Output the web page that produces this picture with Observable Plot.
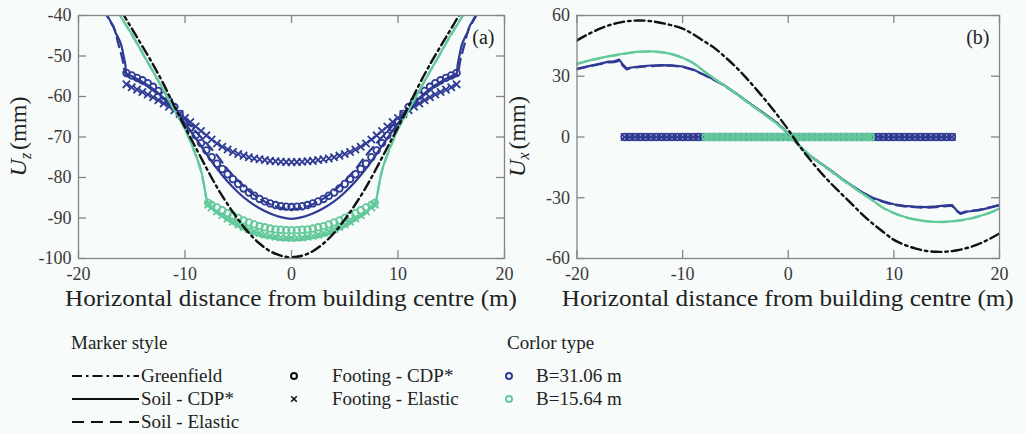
<!DOCTYPE html>
<html><head><meta charset="utf-8">
<script src="https://cdn.jsdelivr.net/npm/d3@7"></script>
<script src="https://cdn.jsdelivr.net/npm/@observablehq/plot@0.6"></script>
<style>
html,body{margin:0;padding:0;background:#f7fbf9;}
#wrap{position:relative;width:1027px;height:434px;overflow:hidden;}
#pa,#pb{position:absolute;top:0;width:520px;height:320px;}
#pa{left:0}
#pb{left:507px}
#legend{position:absolute;top:310px;left:0;overflow:visible}
svg{overflow:visible}
svg text, svg tspan{font-family:'Liberation Serif','Times New Roman',serif !important;}
</style></head><body>
<div id="wrap"><div id="pa"></div><div id="pb"></div><svg id="legend" width="1027" height="124"></svg></div>
<script>
// ---------- ticks ----------
const xTicks = [-20, -10, 0, 10, 20];
const uzTicks = [-100, -90, -80, -70, -60, -50, -40];
const uxTicks = [-60, -30, 0, 30, 60];

// ---------- footing nodes ----------
const nodesB31 = [-15.5,-15,-14.5,-14,-13.5,-13,-12.5,-12,-11.5,-11,-10.5,-10,-9.5,-9,-8.5,-8,-7.5,-7,-6.5,-6,-5.5,-5,-4.5,-4,-3.5,-3,-2.5,-2,-1.5,-1,-0.5,0,0.5,1,1.5,2,2.5,3,3.5,4,4.5,5,5.5,6,6.5,7,7.5,8,8.5,9,9.5,10,10.5,11,11.5,12,12.5,13,13.5,14,14.5,15,15.5];
const nodesB15 = [-7.82,-7.5,-7,-6.5,-6,-5.5,-5,-4.5,-4,-3.5,-3,-2.5,-2,-1.5,-1,-0.5,0,0.5,1,1.5,2,2.5,3,3.5,4,4.5,5,5.5,6,6.5,7,7.5,7.82];

// ---------- panel (a): Uz ----------
const footUzCDP_B31 = [-54.2,-54.8,-55.4,-56.0,-56.7,-57.6,-58.6,-59.8,-61.1,-62.6,-64.3,-66.1,-67.8,-69.6,-71.5,-73.3,-75.0,-76.6,-77.9,-79.2,-80.4,-81.6,-82.7,-83.7,-84.5,-85.3,-85.9,-86.4,-86.8,-87.1,-87.2,-87.3,-87.2,-87.1,-86.8,-86.4,-85.9,-85.3,-84.5,-83.7,-82.7,-81.6,-80.4,-79.2,-77.9,-76.6,-75.0,-73.3,-71.5,-69.6,-67.8,-66.1,-64.3,-62.6,-61.1,-59.8,-58.6,-57.6,-56.7,-56.0,-55.4,-54.8,-54.2];
const footUzEla_B31 = [-57.0,-57.7,-58.3,-58.9,-59.5,-60.2,-60.9,-61.7,-62.5,-63.4,-64.3,-65.3,-66.3,-67.4,-68.5,-69.6,-70.6,-71.6,-72.4,-73.1,-73.7,-74.2,-74.6,-75.0,-75.3,-75.5,-75.7,-75.9,-76.0,-76.1,-76.2,-76.2,-76.2,-76.1,-76.0,-75.9,-75.7,-75.5,-75.3,-75.0,-74.6,-74.2,-73.7,-73.1,-72.4,-71.6,-70.6,-69.6,-68.5,-67.4,-66.3,-65.3,-64.3,-63.4,-62.5,-61.7,-60.9,-60.2,-59.5,-58.9,-58.3,-57.7,-57.0];
const footUzCDP_B15 = [-86.3,-86.8,-87.4,-88.1,-88.8,-89.4,-90.0,-90.6,-91.1,-91.6,-92.0,-92.3,-92.6,-92.8,-92.9,-93.0,-93.0,-93.0,-92.9,-92.8,-92.6,-92.3,-92.0,-91.6,-91.1,-90.6,-90.0,-89.4,-88.8,-88.1,-87.4,-86.8,-86.3];
const footUzEla_B15 = [-86.7,-87.4,-88.4,-89.3,-90.1,-90.9,-91.6,-92.2,-92.8,-93.3,-93.7,-94.1,-94.4,-94.6,-94.8,-94.9,-94.9,-94.9,-94.8,-94.6,-94.4,-94.1,-93.7,-93.3,-92.8,-92.2,-91.6,-90.9,-90.1,-89.3,-88.4,-87.4,-86.7];

const soilX_B31 = [-17.6,-17.3,-17.0,-16.7,-16.5,-16.3,-16.0,-15.8,-15.6,-15.5,-15,-14,-13,-12,-11,-10,-9,-8,-7,-6,-5,-4,-3,-2,-1,0,1,2,3,4,5,6,7,8,9,10,11,12,13,14,15,15.5,15.6,15.8,16.0,16.3,16.5,16.7,17.0,17.3,17.6];
const soilUzCDP_B31 = [-38.6,-40.0,-41.4,-42.8,-44.4,-45.3,-47.2,-49.5,-52.2,-54.3,-55.0,-56.4,-58.1,-60.4,-63.3,-66.6,-70.3,-74.1,-77.8,-81.0,-83.7,-85.9,-87.6,-88.9,-89.8,-90.2,-89.8,-88.9,-87.6,-85.9,-83.7,-81.0,-77.8,-74.1,-70.3,-66.6,-63.3,-60.4,-58.1,-56.4,-55.0,-54.3,-52.2,-49.5,-47.2,-45.3,-44.4,-42.8,-41.4,-40.0,-38.6];
const soilXe_B31 = [-17.7,-17.35,-17.0,-16.6,-16.3,-15.9,-15.5,-15,-14,-13,-12,-11,-10,-9,-8,-7,-6,-5,-4,-3,-2,-1,0,1,2,3,4,5,6,7,8,9,10,11,12,13,14,15,15.5,15.9,16.3,16.6,17.0,17.35,17.7];
const soilUzEla_B31 = [-38.4,-40.0,-41.6,-43.6,-46.6,-50.5,-54.8,-55.4,-56.8,-58.5,-60.6,-63.0,-65.7,-68.6,-71.5,-74.5,-78.0,-80.8,-83.3,-85.2,-86.6,-87.5,-87.8,-87.5,-86.6,-85.2,-83.3,-80.8,-78.0,-74.5,-71.5,-68.6,-65.7,-63.0,-60.6,-58.5,-56.8,-55.4,-54.8,-50.5,-46.6,-43.6,-41.6,-40.0,-38.4];
const soilX_B15 = [-16.5,-16.1,-15,-14,-13,-12,-11,-10,-9.5,-9,-8.5,-8.2,-8.0,-7.82,-7,-6,-5,-4,-3,-2,-1,0,1,2,3,4,5,6,7,7.82,8.0,8.2,8.5,9,9.5,10,11,12,13,14,15,16.1,16.5];
const soilUzCDP_B15 = [-38.0,-40.0,-44.6,-49.2,-53.8,-58.5,-63.3,-68.0,-71.0,-74.3,-78.2,-82.0,-85.0,-86.5,-88.6,-90.6,-92.2,-93.5,-94.4,-95.0,-95.4,-95.5,-95.4,-95.0,-94.4,-93.5,-92.2,-90.6,-88.6,-86.5,-85.0,-82.0,-78.2,-74.3,-71.0,-68.0,-63.3,-58.5,-53.8,-49.2,-44.6,-40.0,-38.0];
const soilUzEla_B15 = [-37.9,-39.9,-44.7,-49.3,-53.9,-58.6,-63.4,-68.1,-71.2,-74.5,-78.4,-82.2,-85.1,-86.6,-88.8,-90.5,-91.9,-93.0,-93.9,-94.5,-94.8,-94.9,-94.8,-94.5,-93.9,-93.0,-91.9,-90.5,-88.8,-86.6,-85.1,-82.2,-78.4,-74.5,-71.2,-68.1,-63.4,-58.6,-53.9,-49.3,-44.7,-39.9,-37.9];
const gfX_a = [-17,-16,-15,-14,-13,-12,-11,-10,-9,-8,-7,-6,-5,-4,-3,-2,-1,0,1,2,3,4,5,6,7,8,9,10,11,12,13,14,15,16,17];
const gfUz = [-34.6,-38.8,-43.2,-47.6,-52.1,-57.0,-62.4,-67.6,-72.6,-77.6,-82.4,-86.6,-90.4,-93.7,-96.3,-98.2,-99.3,-99.7,-99.3,-98.2,-96.3,-93.7,-90.4,-86.6,-82.4,-77.6,-72.6,-67.6,-62.4,-57.0,-52.1,-47.6,-43.2,-38.8,-34.6];

// ---------- panel (b): Ux ----------
const uxX_B31 = [-20,-19,-18,-17,-16.5,-16,-15.7,-15.3,-15,-14,-13,-12,-11,-10,-9,-8,-7,-6,-5,-4,-3,-2,-1,0,1,2,3,4,5,6,7,8,9,10,11,12,13,14,15,15.5,16,16.3,17,18,19,20];
const soilUxCDP_B31 = [33.7,34.9,36.0,37.2,37.4,38.2,36.0,33.8,34.2,34.9,35.3,35.5,35.4,34.8,33.3,30.8,28.3,25.4,21.8,18.0,14.3,10.6,6.7,1.8,-4.1,-9.0,-12.7,-16.4,-20.3,-23.9,-27.3,-30.0,-31.8,-33.2,-34.0,-34.4,-34.6,-34.3,-33.8,-33.6,-36.5,-38.0,-36.8,-36.3,-35.0,-33.7];
const soilUxEla_B31 = [33.5,34.7,35.8,36.9,37.0,37.6,35.4,33.4,34.0,34.6,35.0,35.3,35.2,34.6,33.1,30.7,28.1,25.2,21.6,17.8,14.1,10.4,6.5,1.6,-4.2,-9.1,-12.9,-16.6,-20.5,-24.1,-27.5,-30.3,-32.1,-33.5,-34.3,-34.7,-34.9,-34.6,-34.1,-33.9,-36.8,-37.6,-36.5,-36.0,-34.8,-33.5];
const uxX = [-20,-19,-18,-17,-16,-15,-14,-13,-12,-11,-10,-9,-8,-7,-6,-5,-4,-3,-2,-1,0,1,2,3,4,5,6,7,8,9,10,11,12,13,14,15,16,17,18,19,20];
const soilUxCDP_B15 = [36.2,37.6,38.8,39.9,40.8,41.6,42.2,42.3,41.9,40.9,39.1,36.6,32.6,28.8,25.3,21.7,17.8,14.0,10.2,6.3,1.8,-4.0,-8.9,-12.8,-16.6,-20.5,-24.2,-27.8,-31.3,-35.0,-37.5,-39.4,-40.7,-41.5,-41.9,-41.8,-41.3,-40.5,-39.2,-37.5,-35.3];
const soilUxEla_B15 = [36.1,37.5,38.7,39.8,40.7,41.5,42.1,42.2,41.8,40.8,39.0,36.5,32.5,28.7,25.2,21.6,17.7,13.9,10.1,6.2,1.7,-4.1,-9.0,-12.9,-16.7,-20.6,-24.3,-27.9,-31.4,-35.1,-37.6,-39.5,-40.8,-41.6,-42.0,-41.9,-41.4,-40.6,-39.3,-37.6,-35.4];
const gfUx = [47.7,50.6,53.1,55.1,56.5,57.3,57.5,57.2,56.3,55.1,53.5,50.8,47.4,44.0,39.6,34.8,29.3,23.4,17.2,10.6,3.6,-4.0,-10.8,-17.0,-22.7,-27.9,-33.0,-38.2,-42.8,-46.9,-50.8,-53.2,-55.0,-56.2,-56.7,-56.6,-55.9,-54.7,-52.9,-50.5,-47.6];
const footUx_B31 = [0,0,0,0,0,0,0,0,0,0,0,0,0,0,0,0,0,0,0,0,0,0,0,0,0,0,0,0,0,0,0,0,0,0,0,0,0,0,0,0,0,0,0,0,0,0,0,0,0,0,0,0,0,0,0,0,0,0,0,0,0,0,0];
const footUx_B15 = [0,0,0,0,0,0,0,0,0,0,0,0,0,0,0,0,0,0,0,0,0,0,0,0,0,0,0,0,0,0,0,0,0];

// ---------- text ----------
const xLabel = "Horizontal distance from building centre (m)";
const tags = ["(a)", "(b)"];
const legendHeads = ["Marker style", "Corlor type"];
const lineItems = ["Greenfield", "Soil - CDP*", "Soil - Elastic"];
const markerItems = ["Footing - CDP*", "Footing - Elastic"];
const colorItems = ["B=31.06 m", "B=15.64 m"];

const FONT = "'Liberation Serif', 'Times New Roman', serif";
const BLUE = "#2f3a94", GREEN = "#63c99b", BLACK = "#111";
const GRAY = "#858585";
const DASHDOT = "10,4,2.5,4", DASH = "10,6";

const pts = (xs, ys) => xs.map((x, i) => ({x, y: ys[i]}));
const lineM = (xs, ys, o) => Plot.line(pts(xs, ys), {x: "x", y: "y", clip: true, strokeLinejoin: "round", ...o});
const dotM = (xs, ys, o) => Plot.dot(pts(xs, ys), {x: "x", y: "y", r: 3.3, fill: "none", strokeWidth: 1.8, clip: true, ...o});

function makePanel({ml, mr, yDomain, yTicks, marks, sub, tag}) {
  const W = 520, H = 320, mt = 15, mb = 62;
  const fw = W - ml - mr, fh = H - mt - mb;
  const svg = Plot.plot({
    width: W, height: H, marginLeft: ml, marginRight: mr, marginTop: mt, marginBottom: mb,
    style: {background: "transparent", overflow: "visible", fontFamily: FONT, color: "#3a3a3a"},
    x: {domain: [-20, 20]},
    y: {domain: yDomain},
    marks: [
      ...marks,
      Plot.frame({stroke: GRAY, strokeWidth: 1.3}),
      Plot.tickX(xTicks, {x: d => d, insetTop: fh - 8, stroke: GRAY, strokeWidth: 1.3}),
      Plot.tickX(xTicks, {x: d => d, insetBottom: fh - 8, stroke: GRAY, strokeWidth: 1.3}),
      Plot.tickY(yTicks, {y: d => d, insetRight: fw - 8, stroke: GRAY, strokeWidth: 1.3}),
      Plot.tickY(yTicks, {y: d => d, insetLeft: fw - 8, stroke: GRAY, strokeWidth: 1.3}),
      Plot.axisX(xTicks, {tickSize: 0, tickPadding: 9, fontSize: 18, tickFormat: d => String(d), label: null}),
      Plot.axisY(yTicks, {tickSize: 0, tickPadding: 7, fontSize: 18, tickFormat: d => String(d), label: null}),
      Plot.text([tag], {text: d => d, frameAnchor: "top-right", textAnchor: "end", lineAnchor: "top", dx: -10, dy: 14, fontSize: 20, fill: "#222"})
    ]
  });
  const s = d3.select(svg);
  s.append("text")
    .attr("x", ml + fw / 2).attr("y", 306)
    .attr("text-anchor", "middle").attr("font-family", FONT).attr("font-size", 24)
    .attr("fill", "#222").attr("textLength", 452).attr("lengthAdjust", "spacingAndGlyphs")
    .text(xLabel);
  const yl = s.append("text")
    .attr("transform", `translate(${ml - 52},${mt + fh / 2}) rotate(-90)`)
    .attr("text-anchor", "middle").attr("font-family", FONT).attr("font-size", 24).attr("fill", "#222");
  yl.append("tspan").attr("font-style", "italic").text("U");
  yl.append("tspan").attr("font-style", "italic").attr("font-size", 16).attr("dy", "0.3em").text(sub);
  yl.append("tspan").attr("dy", "-0.2em").attr("dx", 3).text("(mm)");
  return svg;
}

const panelA = makePanel({
  ml: 78, mr: 16, yDomain: [-100, -40], yTicks: uzTicks, sub: "z", tag: tags[0],
  marks: [
    dotM(nodesB31, footUzCDP_B31, {stroke: BLUE}),
    dotM(nodesB31, footUzEla_B31, {stroke: BLUE, symbol: "times", r: 3.4}),
    lineM(soilX_B31, soilUzCDP_B31, {stroke: BLUE, strokeWidth: 2.2, curve: "catmull-rom"}),
    lineM(soilXe_B31, soilUzEla_B31, {stroke: BLUE, strokeWidth: 2.2, strokeDasharray: DASH, curve: "catmull-rom"}),
    lineM(soilX_B15, soilUzCDP_B15, {stroke: GREEN, strokeWidth: 2.2, curve: "catmull-rom"}),
    lineM(soilX_B15, soilUzEla_B15, {stroke: GREEN, strokeWidth: 2.2, strokeDasharray: DASH, curve: "catmull-rom"}),
    dotM(nodesB15, footUzCDP_B15, {stroke: GREEN}),
    dotM(nodesB15, footUzEla_B15, {stroke: GREEN, symbol: "times", r: 3.4}),
    lineM(gfX_a, gfUz, {stroke: BLACK, strokeWidth: 2.4, strokeDasharray: DASHDOT, curve: "catmull-rom"})
  ]
});
document.getElementById("pa").append(panelA);

const panelB = makePanel({
  ml: 69.5, mr: 28, yDomain: [-60, 60], yTicks: uxTicks, sub: "x", tag: tags[1],
  marks: [
    lineM(uxX_B31, soilUxCDP_B31, {stroke: BLUE, strokeWidth: 2.2}),
    lineM(uxX_B31, soilUxEla_B31, {stroke: BLUE, strokeWidth: 2.2, strokeDasharray: DASH}),
    lineM(uxX, soilUxCDP_B15, {stroke: GREEN, strokeWidth: 2.2, curve: "catmull-rom"}),
    lineM(uxX, soilUxEla_B15, {stroke: GREEN, strokeWidth: 2.2, strokeDasharray: DASH, curve: "catmull-rom"}),
    dotM(nodesB31, footUx_B31, {stroke: BLUE}),
    dotM(nodesB31, footUx_B31, {stroke: BLUE, symbol: "times", r: 3.4}),
    dotM(nodesB15, footUx_B15, {stroke: GREEN}),
    dotM(nodesB15, footUx_B15, {stroke: GREEN, symbol: "times", r: 3.4}),
    lineM(uxX, gfUx, {stroke: BLACK, strokeWidth: 2.4, strokeDasharray: DASHDOT, curve: "catmull-rom"})
  ]
});
document.getElementById("pb").append(panelB);

// ---------- legend ----------
const leg = d3.select("#legend");
const txt = (x, y, s) => leg.append("text").attr("x", x).attr("y", y)
  .attr("font-family", FONT).attr("font-size", 19).attr("fill", "#222").text(s);
const rowY = [65, 88, 111];
txt(71, 39, legendHeads[0]);
txt(507, 39, legendHeads[1]);
const lineStyles = [DASHDOT, null, "12,7"];
lineItems.forEach((s, i) => {
  leg.append("line").attr("x1", 72).attr("x2", 139).attr("y1", rowY[i] + 1).attr("y2", rowY[i] + 1)
    .attr("stroke", BLACK).attr("stroke-width", 2).attr("stroke-dasharray", lineStyles[i]);
  txt(141, rowY[i] + 7, s);
});
leg.append("circle").attr("cx", 294).attr("cy", rowY[0] + 1).attr("r", 3).attr("fill", "none").attr("stroke", BLACK).attr("stroke-width", 2);
leg.append("path").attr("d", d3.symbol(d3.symbolTimes, 22)()).attr("transform", `translate(294,${rowY[1] + 1})`).attr("fill", "none").attr("stroke", BLACK).attr("stroke-width", 1.6);
markerItems.forEach((s, i) => txt(332, rowY[i] + 7, s));
[BLUE, GREEN].forEach((c, i) => {
  leg.append("circle").attr("cx", 509).attr("cy", rowY[i] + 1).attr("r", 3).attr("fill", "none").attr("stroke", c).attr("stroke-width", 2);
});
colorItems.forEach((s, i) => txt(536, rowY[i] + 7, s));
</script>
</body></html>
